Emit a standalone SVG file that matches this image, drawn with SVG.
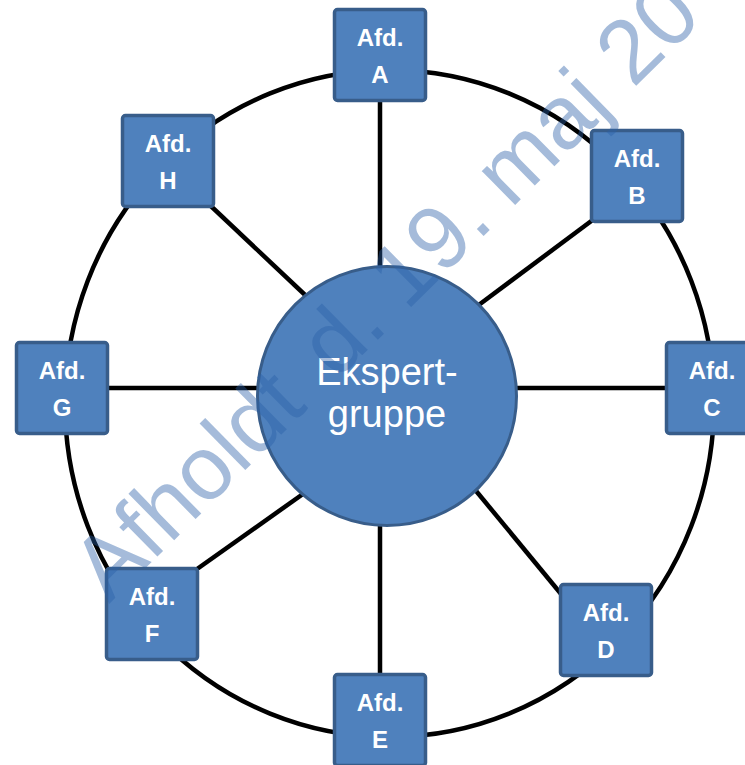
<svg xmlns="http://www.w3.org/2000/svg" width="745" height="765" viewBox="0 0 745 765">
  <style>
    .ring { fill: none; stroke: #000; stroke-width: 4.5; }
    .spoke { stroke: #000; stroke-width: 4.5; }
    .box { fill: #4F81BD; stroke: #385D8A; stroke-width: 3.5; }
    .hub { fill: #4F81BD; stroke: #385D8A; stroke-width: 3; }
    .lbl { font-family: "Liberation Sans", Arial, sans-serif; font-weight: bold; font-size: 24px; fill: #fff; text-anchor: middle; }
    .hubtxt { font-family: "Liberation Sans", Arial, sans-serif; font-size: 38px; fill: #fff; text-anchor: middle; }
    .mark { font-family: "Liberation Sans", Arial, sans-serif; font-size: 90px; fill: #2A60A8; opacity: 0.42; }
  </style>
  <defs>
    <rect id="sq" x="-45.5" y="-45.5" width="91" height="91" rx="3"/>
  </defs>

  <rect width="745" height="765" fill="#fff"/>

  <!-- outer ring and spokes -->
  <g id="connectors">
    <ellipse class="ring" cx="389.5" cy="403.5" rx="324.5" ry="333.5"/>
    <line class="spoke" x1="380" y1="101" x2="380" y2="272"/>
    <line class="spoke" x1="380" y1="522" x2="380" y2="676"/>
    <line class="spoke" x1="104" y1="388" x2="262" y2="388"/>
    <line class="spoke" x1="512" y1="388" x2="670" y2="388"/>
    <line class="spoke" x1="205" y1="200.5" x2="312" y2="301.5"/>
    <line class="spoke" x1="474" y1="308.5" x2="598" y2="216"/>
    <line class="spoke" x1="190" y1="574" x2="310" y2="489"/>
    <line class="spoke" x1="472" y1="486" x2="566" y2="600"/>
  </g>

  <!-- central hub -->
  <g id="hub">
    <circle class="hub" cx="387" cy="396" r="129.5"/>
    <text class="hubtxt" x="387" y="385">Ekspert-</text>
    <text class="hubtxt" x="387" y="427">gruppe</text>
  </g>

  <!-- departments -->
  <g id="afd-a" transform="translate(380,55)">
    <use href="#sq" class="box"/>
    <text class="lbl" y="-9">Afd.</text><text class="lbl" y="27.5">A</text>
  </g>
  <g id="afd-b" transform="translate(637,176)">
    <use href="#sq" class="box"/>
    <text class="lbl" y="-9">Afd.</text><text class="lbl" y="27.5">B</text>
  </g>
  <g id="afd-c" transform="translate(712,388)">
    <use href="#sq" class="box"/>
    <text class="lbl" y="-9">Afd.</text><text class="lbl" y="27.5">C</text>
  </g>
  <g id="afd-d" transform="translate(606,630)">
    <use href="#sq" class="box"/>
    <text class="lbl" y="-9">Afd.</text><text class="lbl" y="27.5">D</text>
  </g>
  <g id="afd-e" transform="translate(380,720)">
    <use href="#sq" class="box"/>
    <text class="lbl" y="-9">Afd.</text><text class="lbl" y="27.5">E</text>
  </g>
  <g id="afd-f" transform="translate(152,614)">
    <use href="#sq" class="box"/>
    <text class="lbl" y="-9">Afd.</text><text class="lbl" y="27.5">F</text>
  </g>
  <g id="afd-g" transform="translate(62,388)">
    <use href="#sq" class="box"/>
    <text class="lbl" y="-9">Afd.</text><text class="lbl" y="27.5">G</text>
  </g>
  <g id="afd-h" transform="translate(168,161)">
    <use href="#sq" class="box"/>
    <text class="lbl" y="-9">Afd.</text><text class="lbl" y="27.5">H</text>
  </g>

  <!-- diagonal date stamp over the drawing -->
  <g id="stamp" transform="translate(109,604) rotate(-44.5)">
    <text class="mark"><tspan x="0" y="0">Afholdt</tspan><tspan x="318.6" y="0">d.</tspan><tspan x="416.9" y="0">19.</tspan><tspan x="563.1" y="0">maj</tspan><tspan x="734.6" y="0">20</tspan></text>
  </g>
</svg>
